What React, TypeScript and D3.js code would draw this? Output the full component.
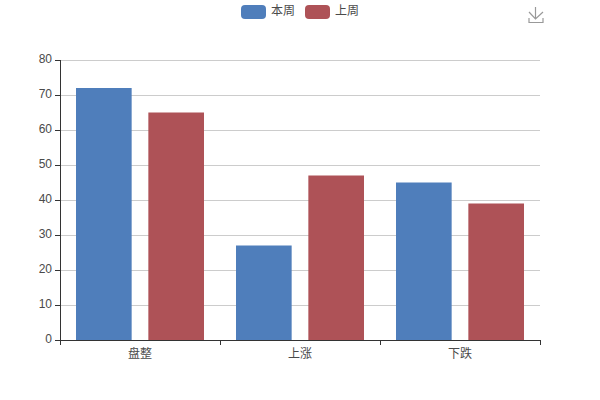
import React from "react";
import * as d3 from "d3";

const categories = ["盘整", "上涨", "下跌"];
const thisWeek = [72, 27, 45];
const lastWeek = [65, 47, 39];
const seriesNames = ["本周", "上周"];
const colors = ["#4f7ebb", "#ae5257"];
const yTicks = [0, 10, 20, 30, 40, 50, 60, 70, 80];

const font = "'Noto Sans CJK SC', 'Liberation Sans', sans-serif";
const numFont = "'Liberation Sans', Arial, sans-serif";
const axisColor = "#333";
const textColor = "#4a4a4a";

export default function App() {
  const left = 60, right = 540, top = 60, bottom = 340;
  const x0 = d3.scaleBand<string>().domain(categories).range([left, right]);
  const x1 = d3.scaleBand<string>().domain(seriesNames).range([16, 144]).paddingInner(0.3 / 1.3).paddingOuter(0);
  const y = d3.scaleLinear().domain([0, 80]).range([bottom, top]);
  const series = [thisWeek, lastWeek];
  const legendX = [241, 305];

  return (
    <svg width={600} height={400} style={{ position: "absolute", left: 0, top: 0, background: "#fff" }}>
      {yTicks.filter((t) => t > 0).map((t) => (
        <line key={t} x1={left} x2={right} y1={y(t) + 0.5} y2={y(t) + 0.5} stroke="#ccc" />
      ))}
      {categories.map((c, i) =>
        series.map((s, k) => (
          <rect
            key={c + k}
            x={x0(c)! + x1(seriesNames[k])!}
            width={x1.bandwidth()}
            y={y(s[i])}
            height={bottom - y(s[i])}
            fill={colors[k]}
          />
        ))
      )}
      <line x1={left + 0.5} x2={left + 0.5} y1={top} y2={bottom + 1} stroke={axisColor} />
      {yTicks.map((t) => (
        <line key={t} x1={left - 5} x2={left} y1={y(t) + 0.5} y2={y(t) + 0.5} stroke={axisColor} />
      ))}
      <line x1={left} x2={right + 1} y1={bottom + 0.5} y2={bottom + 0.5} stroke={axisColor} />
      {[left, ...categories.map((c) => x0(c)! + x0.bandwidth())].map((p) => (
        <line key={p} x1={p + 0.5} x2={p + 0.5} y1={bottom} y2={bottom + 5} stroke={axisColor} />
      ))}
      {seriesNames.map((n, k) => (
        <rect key={n} x={legendX[k]} y={5} width={25} height={14} rx={4} fill={colors[k]} />
      ))}
      <g fill={textColor} fontSize={12}>
        {yTicks.map((t) => (
          <text key={t} x={left - 8} y={y(t) + 3} textAnchor="end" fontFamily={numFont}>
            {t}
          </text>
        ))}
        {categories.map((c) => (
          <text key={c} x={x0(c)! + x0.bandwidth() / 2} y={358} textAnchor="middle" fontFamily={font}>
            {c}
          </text>
        ))}
        {seriesNames.map((n, k) => (
          <text key={n} x={legendX[k] + 30} y={15} fontFamily={font}>
            {n}
          </text>
        ))}
      </g>
      <path
        d="M529 12 L535.5 19 L543 12 M535.5 19 L535.5 7 M529 18 L529 22.5 L543 22.5 L543 18"
        fill="none"
        stroke="#999"
        strokeWidth={1.2}
      />
    </svg>
  );
}
